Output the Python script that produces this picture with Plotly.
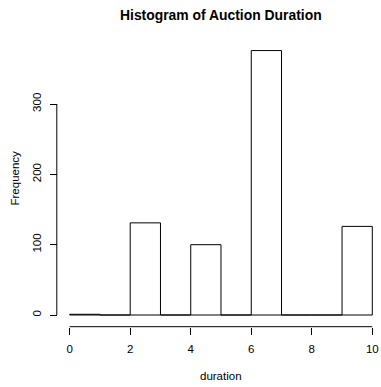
import plotly.graph_objects as go

# Data
breaks = [0, 1, 2, 3, 4, 5, 6, 7, 8, 9, 10]
counts = [1, 0, 131, 0, 100, 0, 376, 0, 0, 126]
x_ticks = [0, 2, 4, 6, 8, 10]
y_ticks = [0, 100, 200, 300]
title_text = "Histogram of Auction Duration"
x_title = "duration"
y_title = "Frequency"

W, H = 381, 387
FONT = "Liberation Sans, Arial, Helvetica, sans-serif"

# Build rectangle outlines (R-style histogram, zero-height bins still drawn)
xs, ys = [], []
for i, c in enumerate(counts):
    x0, x1 = breaks[i], breaks[i + 1]
    xs += [x0, x0, x1, x1, x0, None]
    ys += [0, c, c, 0, 0, None]

fig = go.Figure()
fig.add_trace(go.Scatter(x=xs, y=ys, mode="lines",
                         line=dict(color="black", width=1),
                         hoverinfo="skip", showlegend=False))

# pixel geometry
x0_px, x10_px = 69.7, 372.3
pxu = (x10_px - x0_px) / 10.0
xr = [-0.2, 10.2]
xdom = [(x0_px + xr[0] * pxu) / W, (x0_px + xr[1] * pxu) / W]

y0_px = 315.0
pyu = 0.7033
yr = [-10, 390]
ydom = [1 - (y0_px - yr[0] * pyu) / H, 1 - (y0_px - yr[1] * pyu) / H]

xaxis_pos = 1 - 326.7 / H
yaxis_pos = 56.8 / W

fig.update_layout(
    width=W, height=H,
    margin=dict(l=0, r=0, t=0, b=0),
    paper_bgcolor="white", plot_bgcolor="white",
    font=dict(family=FONT, size=11.5, color="black"),
    xaxis=dict(domain=xdom, range=xr, anchor="free", position=xaxis_pos,
               tickvals=x_ticks, ticktext=[str(v) for v in x_ticks],
               ticks="outside", ticklen=7, tickcolor="black", tickwidth=1,
               showline=False, showgrid=False, zeroline=False,
               ticklabelstandoff=4),
    yaxis=dict(domain=ydom, range=yr, anchor="free", position=yaxis_pos,
               tickvals=y_ticks, ticktext=[str(v) for v in y_ticks],
               ticks="outside", ticklen=7, tickcolor="black", tickwidth=1,
               tickangle=-90,
               showline=False, showgrid=False, zeroline=False,
               ticklabelstandoff=4),
    shapes=[
        dict(type="line", xref="x", yref="paper",
             x0=min(x_ticks), x1=max(x_ticks), y0=xaxis_pos, y1=xaxis_pos,
             line=dict(color="black", width=1)),
        dict(type="line", xref="paper", yref="y",
             x0=yaxis_pos, x1=yaxis_pos, y0=min(y_ticks), y1=max(y_ticks),
             line=dict(color="black", width=1)),
    ],
    annotations=[
        dict(text="<b>" + title_text + "</b>", xref="paper", yref="paper",
             x=221 / W, y=1 - 15 / H, xanchor="center", yanchor="middle",
             showarrow=False, font=dict(size=13.9, family=FONT)),
        dict(text=x_title, xref="paper", yref="paper",
             x=221 / W, y=1 - 375.7 / H, xanchor="center", yanchor="middle",
             showarrow=False, font=dict(size=11.5, family=FONT)),
        dict(text=y_title, xref="paper", yref="paper",
             x=15 / W, y=1 - 178.5 / H, xanchor="center", yanchor="middle",
             textangle=-90, showarrow=False, font=dict(size=11.5, family=FONT)),
    ],
)

fig.write_html("out.html")
